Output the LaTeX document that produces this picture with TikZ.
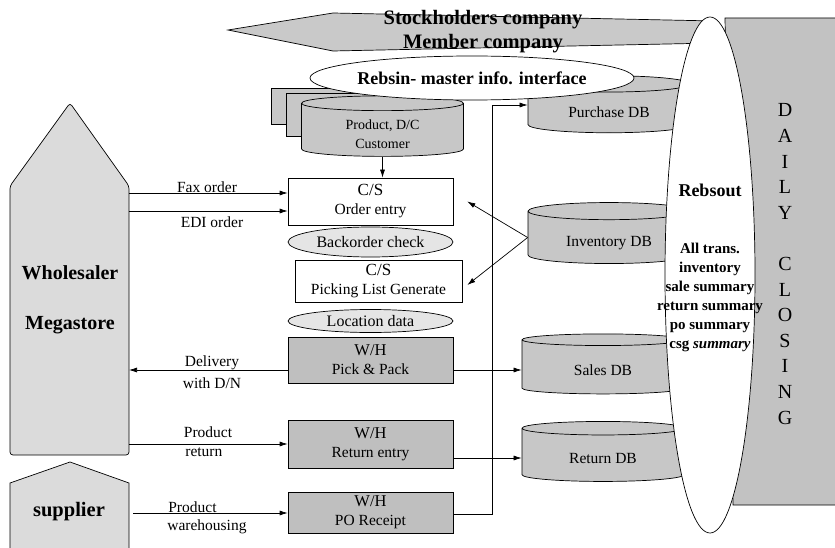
\documentclass[tikz,border=0pt]{standalone}
\usepackage{fontspec}
\setmainfont{Liberation Serif}
\usetikzlibrary{shapes.geometric,arrows.meta}

\definecolor{dcgray}{gray}{0.76}
\definecolor{bngray}{gray}{0.79}
\definecolor{dbgray}{gray}{0.78}
\definecolor{whgray}{gray}{0.75}
\definecolor{wsgray}{gray}{0.86}
\definecolor{chkgray}{gray}{0.90}

\tikzset{
  dbcyl/.style={cylinder, shape border rotate=90, aspect=0.2, draw, fill=dbgray,
    minimum width=162pt, inner sep=0pt, font=\fontsize{15.5}{19}\selectfont},
  csbox/.style={rectangle, draw, fill=white, inner sep=0pt, align=center,
    minimum width=165pt, font=\fontsize{15.5}{19}\selectfont},
  whbox/.style={csbox, fill=whgray},
  chkell/.style={ellipse, draw, fill=chkgray, inner sep=0pt, font=\fontsize{16}{18}\selectfont},
  lbl/.style={inner sep=0pt, font=\fontsize{15.5}{18}\selectfont},
  flow/.style={-{Latex[length=8pt,width=5pt]}},
}
\newcommand{\dbn}{\node[dbcyl]}
\newcommand{\csn}{\node[csbox]}
\newcommand{\whn}{\node[whbox]}
\newcommand{\chkn}{\node[chkell]}
\newcommand{\lbn}{\node[lbl]}
% text of a database sits a little below the middle of the drum
\newcommand{\dbtext}[1]{\raisebox{-5pt}[\height][\depth]{\begin{tabular}{@{}c@{}}#1\end{tabular}}}

\begin{document}
\begin{tikzpicture}[x=1pt, y=-1pt, line width=0.7pt]
            \useasboundingbox (0,0) rectangle (835,548);

            % backgrounds
            \fill[dcgray] (725,18) -- (850,18) -- (850,505) -- (733,505) -- cycle;
            \draw (850,18) -- (725,18) -- (733,505) -- (850,505);
            \filldraw[fill=bngray] (228,30) -- (333,13) -- (715,21) -- (715,43) -- (333,51) -- cycle;

            \filldraw[fill=wsgray, rounded corners=3pt] (10,455) -- (10,186) -- (70,103) -- (129,186) -- (129,455) -- cycle;
            \fill[wsgray] (10,560) -- (10,483) -- (70,462) -- (129,483) -- (129,560) -- cycle;
            \draw (10,560) -- (10,483) -- (70,462) -- (129,483) -- (129,560);

            % databases
            \dbn[minimum height=57pt] (pur) at (609,108.5) {\dbtext{Purchase DB}};
            \dbn[minimum height=36pt] (pdc3) at (352.5,107) {};
            \dbn[minimum height=43pt] (pdc2) at (367.5,115.5) {};
            \dbn[minimum height=60pt, font=\fontsize{14}{19}\selectfont] (pdc) at (382.5,130) {\dbtext{Product, D/C\\Customer}};
            \dbn[minimum height=61pt] (inv) at (609,237.5) {\dbtext{Inventory DB}};
            \dbn[minimum height=60pt] (sal) at (603,367) {\dbtext{Sales DB}};
            \dbn[minimum height=60pt] (ret) at (603,455) {\dbtext{Return DB}};

            \node[ellipse, draw, fill=white, inner sep=0pt, minimum width=324pt, minimum height=44pt,
                font=\fontsize{18}{20}\selectfont\bfseries] (rin) at (472,78) {\makebox[0pt]{Rebsin- master info. interface}};
            \node[ellipse, draw, fill=white, minimum width=90pt, minimum height=516pt] (rout) at (710,275) {};

            % process boxes
            \csn[minimum height=47pt] (oe) at (370.5,201.5) {{\fontsize{17}{19}\selectfont C/S}\\Order entry};
            \chkn[minimum width=165pt, minimum height=30pt] (bc) at (370.5,242) {\makebox[0pt]{Backorder check}};
            \csn[minimum width=167pt, minimum height=42pt] (plg) at (378.5,281) {{\fontsize{17}{19}\selectfont C/S}\\Picking List Generate};
            \chkn[minimum width=165pt, minimum height=23pt] (ld) at (370.5,321) {\makebox[0pt]{Location data}};
            \whn[minimum height=46pt] (pp) at (370.5,360) {{\fontsize{16.5}{21}\selectfont W/H}\\Pick \& Pack};
            \whn[minimum height=48pt] (re) at (370.5,444) {{\fontsize{16.5}{20}\selectfont W/H}\\Return entry};
            \whn[minimum height=41pt] (po) at (370.5,512.5) {{\fontsize{16.5}{19}\selectfont W/H}\\PO Receipt};

            % texts
            \node[align=center, font=\fontsize{20.5}{24}\selectfont\bfseries] (bnt) at (483,32) {Stockholders company\\Member company};
            \node[align=center, font=\fontsize{20}{50}\selectfont\bfseries] (wst) at (70,300) {Wholesaler\\Megastore};
            \node[font=\fontsize{20.5}{24}\selectfont\bfseries] (spt) at (69,512) {supplier};
            \node[font=\fontsize{18}{20}\selectfont\bfseries] (routt) at (710,190) {Rebsout};
            \node[align=center, font=\fontsize{15}{19}\selectfont\bfseries] (sumt) at (710,297)
                {All trans.\\inventory\\sale summary\\return summary\\po summary\\csg \textit{summary}};
            \node[align=center, font=\fontsize{20}{25.6}\selectfont] (dcl) at (785,264)
                {D\\A\\I\\L\\Y\\[25.6pt]C\\L\\O\\S\\I\\N\\G};

            \coordinate (wsfax) at (129,193);
            \coordinate (wsedi) at (129,211);
            \coordinate (wsret) at (129,444);
            \coordinate (spe) at (133,513);
            \coordinate (bus) at (492,105);

            % flows
            \draw[flow]
                (pdc.south) -- (pdc.south |- oe.north);
            \draw[flow] (wsfax) -- (wsfax -| oe.west);
            \draw[flow] (wsedi) -- (wsedi -| oe.west);
            \draw[flow] ([yshift=-10pt]pp.west) -- ([yshift=-10pt]pp.west -| wsfax);
            \draw[flow] (wsret) -- (wsret -| re.west);
            \draw[flow] (spe) -- (spe -| po.west);
            \draw[flow] (inv.west) -- ([xshift=14pt]oe.east);
            \draw[flow] (inv.west) -- ([xshift=5pt,yshift=-4pt]plg.east);
            \draw[flow] ([yshift=-10pt]pp.east) -- ([yshift=-10pt]pp.east -| sal.west);
            \draw[flow] ([yshift=-14pt]re.east) -- ([yshift=-14pt]re.east -| ret.west);
            \draw[flow] ([yshift=-2pt]po.east) -| (bus) -- (bus -| pur.west);

            % flow labels
            \lbn (lfax) at (207,187) {Fax order};
            \lbn (ledi) at (212,222) {EDI order};
            \lbn (ldel) at (212,363) {Delivery};
            \lbn (ldn) at (212,383) {with D/N};
            \lbn (lpr) at (208,432) {Product};
            \lbn[anchor=west] (lret) at (185,452) {return};
            \lbn[anchor=west] (lpw) at (168,507) {Product};
            \lbn[anchor=west] (lwh) at (167,527) {warehousing};
        \end{tikzpicture}
\end{document}
